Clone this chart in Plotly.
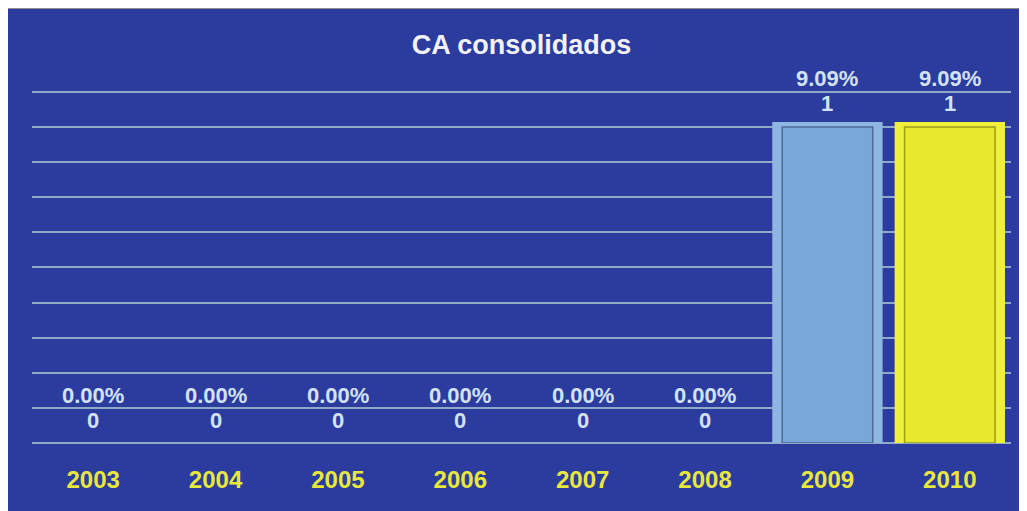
import plotly.graph_objects as go

# Chart data
years = ["2003", "2004", "2005", "2006", "2007", "2008", "2009", "2010"]
counts = [0, 0, 0, 0, 0, 0, 1, 1]
pct_labels = ["0.00%", "0.00%", "0.00%", "0.00%", "0.00%", "0.00%", "9.09%", "9.09%"]

# bar styling (rim = bevel edge, face = inner panel)
rim_colors = ["#8fb6e0"] * 7 + ["#f0f03a"]
face_colors = ["#78a8da"] * 7 + ["#e8e82c"]
inner_line = ["#4c6c96"] * 7 + ["#9c9c1c"]
rim_width = [10 if v > 0 else 0 for v in counts]
inner_width = [1.5 if v > 0 else 0 for v in counts]

BG = "#2b3b9e"
GRID = "rgba(160,190,205,0.85)"
LABEL = "#d2e2f4"
YEAR = "#e8e83c"
FONT = "Arial, Liberation Sans"

fig = go.Figure()

# outer bar, thick edge gives the bevel rim
fig.add_trace(go.Bar(
    x=years, y=counts, width=0.82,
    marker=dict(color=face_colors, line=dict(color=rim_colors, width=rim_width)),
    showlegend=False,
))
# inner panel with thin dark outline
fig.add_trace(go.Bar(
    x=years, y=counts, width=0.74,
    marker=dict(color=face_colors, line=dict(color=inner_line, width=inner_width)),
    showlegend=False, hoverinfo="skip",
))

# value and percent labels above each bar (x given as category index)
for i, (v, p) in enumerate(zip(counts, pct_labels)):
    fig.add_annotation(x=i, y=v, text=f"<b>{v}</b>", showarrow=False, yanchor="middle",
                       yshift=23, font=dict(size=22, color=LABEL, family=FONT))
    fig.add_annotation(x=i, y=v, text=f"<b>{p}</b>", showarrow=False, yanchor="middle",
                       yshift=48, font=dict(size=22, color=LABEL, family=FONT))

# thin gray frame line along the top edge
fig.add_shape(type="line", xref="paper", yref="paper",
              x0=-0.03, x1=1.01, y0=1 + 81 / 354, y1=1 + 81 / 354,
              line=dict(color="#8c8c8c", width=2))

fig.update_layout(
    width=1011,
    height=503,
    margin=dict(l=24, r=8, t=81, b=68),
    paper_bgcolor=BG,
    plot_bgcolor=BG,
    barmode="overlay",
    title=dict(text="<b>CA consolidados</b>", x=0.5, xref="paper", xanchor="center",
               y=1 - 37 / 503, yanchor="middle",
               font=dict(size=27, color="#f2f2f6", family=FONT)),
    xaxis=dict(
        type="category",
        range=[-0.5, len(years) - 0.5],
        tickvals=years,
        ticktext=[f"<b>{y}</b>" for y in years],
        showgrid=False,
        showline=False,
        ticks="outside",
        ticklen=15,
        tickcolor="rgba(0,0,0,0)",
        tickfont=dict(size=24, color=YEAR, family=FONT),
    ),
    yaxis=dict(
        range=[0, 1.12],
        tick0=0,
        dtick=1 / 9,
        showticklabels=False,
        showgrid=True,
        gridcolor=GRID,
        gridwidth=1.5,
        zeroline=True,
        zerolinecolor=GRID,
        zerolinewidth=1.5,
    ),
)

fig.write_html("out.html")
